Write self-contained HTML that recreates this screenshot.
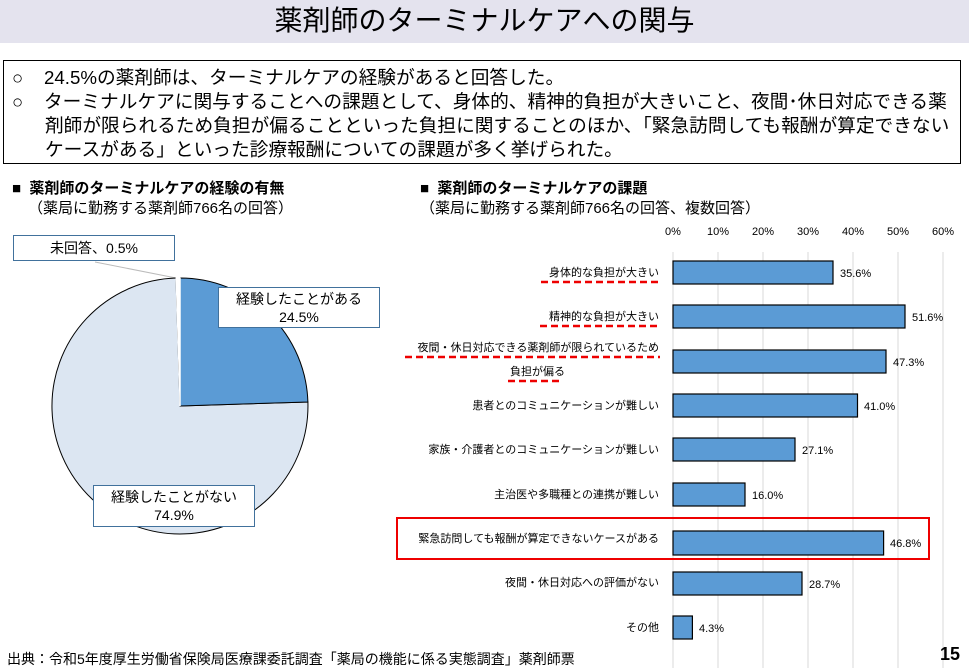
<!DOCTYPE html>
<html><head><meta charset="utf-8"><style>
body{margin:0;width:969px;height:669px;background:#fff;position:relative;overflow:hidden;font-family:"Liberation Sans","Noto Sans CJK JP",sans-serif;color:#000}
.a{position:absolute;white-space:nowrap}
</style></head><body>
<div class="a" style="left:0;top:0;width:969px;height:43px;background:#e4e3ee"></div>
<div class="a" style="left:0;top:1px;width:969px;text-align:center;font-size:28px;line-height:40px">薬剤師のターミナルケアへの関与</div>
<div class="a" style="left:3px;top:60px;width:958px;height:104px;border:1.5px solid #000;box-sizing:border-box"></div>
<div class="a" style="left:12px;top:66px;font-size:18.5px;line-height:24px">○</div>
<div class="a" style="left:12px;top:90px;font-size:18.5px;line-height:24px">○</div>
<div class="a" style="left:44px;top:66px;font-size:18.7px;line-height:24px">24.5%の薬剤師は、ターミナルケアの経験があると回答した。<br>ターミナルケアに関与することへの課題として、身体的、精神的負担が大きいこと、夜間･休日対応できる薬</div>
<div class="a" style="left:45px;top:114px;font-size:18.7px;line-height:24px">剤師が限られるため負担が偏ることといった負担に関することのほか、「緊急訪問しても報酬が算定できない<br>ケースがある」といった診療報酬についての課題が多く挙げられた。</div>
<div class="a" style="left:12px;top:177px;font-size:15px;font-weight:bold">■&nbsp; 薬剤師のターミナルケアの経験の有無</div>
<div class="a" style="left:28px;top:197px;font-size:15px">（薬局に勤務する薬剤師766名の回答）</div>
<div class="a" style="left:420px;top:177px;font-size:15px;font-weight:bold">■&nbsp; 薬剤師のターミナルケアの課題</div>
<div class="a" style="left:420px;top:197px;font-size:15px">（薬局に勤務する薬剤師766名の回答、複数回答）</div>
<svg class="a" style="left:0;top:0" width="969" height="669">
<line x1="95" y1="262" x2="176" y2="278" stroke="#bbb" stroke-width="1"/>
<path d="M180,406 L307.9,402 A128,128 0 1 1 176,278.06 Z" fill="#dce6f2" stroke="#000" stroke-width="1"/>
<path d="M180,406 L180,278 A128,128 0 0 1 307.9,402 Z" fill="#5b9bd5" stroke="#000" stroke-width="1"/>
<path d="M180,406 L176,278.06 A128,128 0 0 1 180,278 Z" fill="#fff" stroke="#fff" stroke-width="1"/>
<line x1="180" y1="278" x2="180" y2="406" stroke="#fff" stroke-width="1.5"/>
<g stroke="#d9d9d9" stroke-width="1">
<line x1="718" y1="252" x2="718" y2="668"/><line x1="763" y1="252" x2="763" y2="668"/><line x1="808" y1="252" x2="808" y2="668"/><line x1="853" y1="252" x2="853" y2="668"/><line x1="898" y1="252" x2="898" y2="668"/><line x1="943" y1="252" x2="943" y2="668"/>
</g>
<line x1="673" y1="252" x2="673" y2="668" stroke="#d9d9d9"/>
<g font-size="11" font-family="Liberation Sans,sans-serif" text-anchor="middle" fill="#000">
<text x="673" y="235">0%</text><text x="718" y="235">10%</text><text x="763" y="235">20%</text><text x="808" y="235">30%</text><text x="853" y="235">40%</text><text x="898" y="235">50%</text><text x="943" y="235">60%</text>
</g>
<g fill="#5b9bd5" stroke="#000" stroke-width="1.2">
<rect x="673" y="261" width="160" height="23"/>
<rect x="673" y="305" width="232" height="23"/>
<rect x="673" y="350" width="213" height="23"/>
<rect x="673" y="394" width="184.5" height="23"/>
<rect x="673" y="438" width="122" height="23"/>
<rect x="673" y="483" width="72" height="23"/>
<rect x="673" y="531" width="210.6" height="24"/>
<rect x="673" y="572" width="129" height="23"/>
<rect x="673" y="616" width="19.4" height="23"/>
</g>
<g font-size="11" font-family="Liberation Sans,sans-serif" fill="#000">
<text x="840" y="277">35.6%</text><text x="912" y="321">51.6%</text><text x="893" y="366">47.3%</text><text x="864" y="410">41.0%</text><text x="802" y="454">27.1%</text><text x="752" y="499">16.0%</text><text x="890" y="547">46.8%</text><text x="809" y="588">28.7%</text><text x="699" y="632">4.3%</text>
</g>
<g font-size="11" font-family="Liberation Sans,Noto Sans CJK JP,sans-serif" text-anchor="end" fill="#000">
<text x="659" y="276">身体的な負担が大きい</text>
<text x="659" y="320">精神的な負担が大きい</text>
<text x="659" y="351">夜間・休日対応できる薬剤師が限られているため</text>
<text x="565" y="375">負担が偏る</text>
<text x="659" y="409">患者とのコミュニケーションが難しい</text>
<text x="659" y="453">家族・介護者とのコミュニケーションが難しい</text>
<text x="659" y="498">主治医や多職種との連携が難しい</text>
<text x="659" y="542">緊急訪問しても報酬が算定できないケースがある</text>
<text x="659" y="586">夜間・休日対応への評価がない</text>
<text x="659" y="631">その他</text>
</g>
<g stroke="#e00" stroke-width="2.5" stroke-dasharray="7,4">
<line x1="541" y1="282" x2="662" y2="282"/>
<line x1="540" y1="326" x2="660" y2="326"/>
<line x1="405" y1="357" x2="660" y2="357"/>
<line x1="508" y1="381" x2="562" y2="381"/>
</g>
<rect x="397" y="518" width="532" height="41" fill="none" stroke="#e00" stroke-width="2"/>
</svg>
<div class="a" style="left:13px;top:235px;width:162px;height:26px;border:1px solid #41719c;background:#fff;box-sizing:border-box;text-align:center;font-size:14px;line-height:24px">未回答、0.5%</div>
<div class="a" style="left:218px;top:287px;width:162px;height:41px;border:1px solid #41719c;background:#fff;box-sizing:border-box;text-align:center;font-size:14px;line-height:18px;padding-top:2px">経験したことがある<br>24.5%</div>
<div class="a" style="left:93px;top:485px;width:162px;height:42px;border:1px solid #41719c;background:#fff;box-sizing:border-box;text-align:center;font-size:14px;line-height:18px;padding-top:2px">経験したことがない<br>74.9%</div>
<div class="a" style="left:7px;top:649px;font-size:14px">出典：令和5年度厚生労働省保険局医療課委託調査「薬局の機能に係る実態調査」薬剤師票</div>
<div class="a" style="left:940px;top:644px;font-size:18px;font-weight:bold">15</div>
</body></html>
